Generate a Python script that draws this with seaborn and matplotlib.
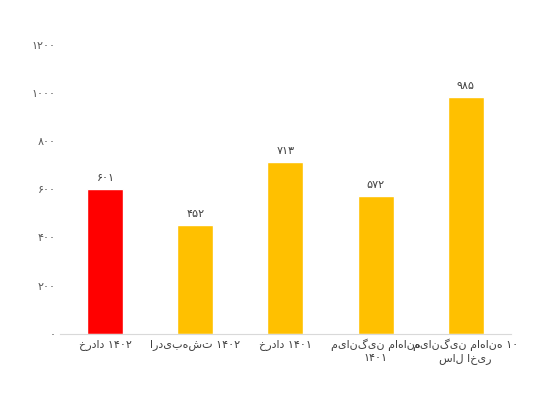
import seaborn as sns
import pandas as pd
import matplotlib
matplotlib.use('Agg')
from matplotlib import pyplot as plt

categories = ['خرداد ۱۴۰۲', 'اردیبهشت ۱۴۰۲', 'خرداد ۱۴۰۱', 'میانگین ماهانه\n۱۴۰۱', 'میانگین ماهانه ۱۰\nسال اخیر']
values = [601, 452, 713, 572, 985]
colors = ['#FF0000', '#FFC000', '#FFC000', '#FFC000', '#FFC000']
yticks = [0, 200, 400, 600, 800, 1000, 1200]

FA_DIGITS = str.maketrans('0123456789', '۰۱۲۳۴۵۶۷۸۹')


def fa_num(n):
    return str(n).translate(FA_DIGITS)


sns.set_style('white')
plt.rcParams['font.family'] = ['DejaVu Sans']

df = pd.DataFrame({'cat': categories, 'val': values})

fig, ax = plt.subplots(figsize=(5.49, 4.07), dpi=100)
sns.barplot(data=df, x='cat', y='val', hue='cat', palette=colors, legend=False,
            width=0.4, saturation=1, ax=ax)

for i, v in enumerate(values):
    ax.text(i, v + 25, fa_num(v), ha='center', va='bottom', fontsize=8, color='#404040')

ax.set_ylim(0, 1200)
ax.set_yticks(yticks)
ax.set_yticklabels([fa_num(t) for t in yticks], fontsize=8, color='#595959')
ax.tick_params(axis='x', labelsize=8, colors='#404040', length=0)
ax.tick_params(axis='y', length=0)
ax.set_xlabel('')
ax.set_ylabel('')
for s in ['top', 'right', 'left']:
    ax.spines[s].set_visible(False)
ax.spines['bottom'].set_color('#D9D9D9')

plt.subplots_adjust(left=0.11, right=0.93, top=0.89, bottom=0.18)
plt.savefig('out.png', dpi=100)
